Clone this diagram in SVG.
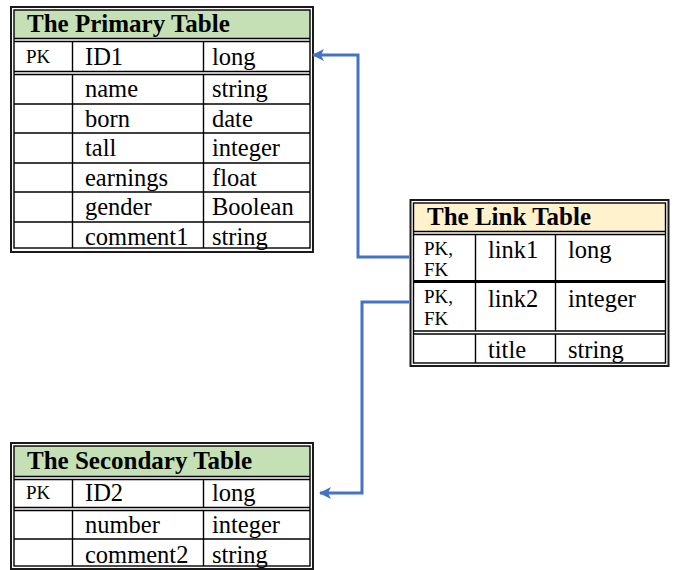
<svg xmlns="http://www.w3.org/2000/svg" width="673" height="570" viewBox="0 0 673 570">
  <style>
    .outer { fill: none; stroke: #1a1a1a; stroke-width: 2; }
    .inner { fill: none; stroke: #000; stroke-width: 1.4; }
    .rule { stroke: #000; stroke-width: 1.4; fill: none; }
    .thick { stroke: #000; stroke-width: 3; fill: none; }
    .head-green { fill: #c5e0b4; }
    .head-yellow { fill: #fff2cc; }
    text { font-family: 'Liberation Serif', 'DejaVu Serif', serif; fill: #000; }
    .title { font-weight: bold; font-size: 25px; }
    .cell { font-size: 24.5px; }
    .key { font-size: 19px; }
    .conn { fill: none; stroke: #4472c4; stroke-width: 3; }
  </style>
  <defs>
    <marker id="arrow" viewBox="0 0 12 12" refX="11" refY="6" markerWidth="12" markerHeight="12" markerUnits="userSpaceOnUse" orient="auto">
      <path d="M0,0 L12,6 L0,12 L3,6 Z" fill="#4472c4"/>
    </marker>
  </defs>

  <!-- Primary table -->
  <g id="primary-table">
    <rect class="head-green" x="14" y="10" width="296" height="28.5"/>
    <rect class="outer" x="11" y="7" width="302" height="245"/>
    <rect class="inner" x="14" y="10" width="296" height="238"/>
    <line class="rule" x1="14" y1="38.5" x2="310" y2="38.5"/>
    <line class="rule" x1="14" y1="41.5" x2="310" y2="41.5"/>
    <line class="rule" x1="14" y1="71.5" x2="310" y2="71.5"/>
    <line class="rule" x1="14" y1="74.5" x2="310" y2="74.5"/>
    <line class="rule" x1="14" y1="104" x2="310" y2="104"/>
    <line class="rule" x1="14" y1="133" x2="310" y2="133"/>
    <line class="rule" x1="14" y1="163" x2="310" y2="163"/>
    <line class="rule" x1="14" y1="192" x2="310" y2="192"/>
    <line class="rule" x1="14" y1="222" x2="310" y2="222"/>
    <path class="rule" d="M72.5,41.5 V71.5 M72.5,74.5 V248 M203.5,41.5 V71.5 M203.5,74.5 V248"/>
    <text class="title" x="27" y="32">The Primary Table</text>
    <text class="key" x="26" y="63">PK</text>
    <text class="cell" x="85" y="65">ID1</text>
    <text class="cell" x="212" y="65">long</text>
    <text class="cell" x="85" y="97">name</text>
    <text class="cell" x="212" y="97">string</text>
    <text class="cell" x="85" y="127">born</text>
    <text class="cell" x="212" y="127">date</text>
    <text class="cell" x="85" y="156">tall</text>
    <text class="cell" x="212" y="156">integer</text>
    <text class="cell" x="85" y="186">earnings</text>
    <text class="cell" x="212" y="186">float</text>
    <text class="cell" x="85" y="215">gender</text>
    <text class="cell" x="212" y="215">Boolean</text>
    <text class="cell" x="85" y="245">comment1</text>
    <text class="cell" x="212" y="245">string</text>
  </g>

  <!-- Link table -->
  <g id="link-table">
    <rect class="head-yellow" x="413.5" y="203" width="252" height="28.5"/>
    <rect class="outer" x="410.5" y="200" width="258" height="166"/>
    <rect class="inner" x="413.5" y="203" width="252" height="160"/>
    <line class="rule" x1="413.5" y1="231.5" x2="665.5" y2="231.5"/>
    <line class="rule" x1="413.5" y1="234.5" x2="665.5" y2="234.5"/>
    <line class="thick" x1="413.5" y1="281.5" x2="665.5" y2="281.5"/>
    <line class="rule" x1="413.5" y1="331" x2="665.5" y2="331"/>
    <line class="rule" x1="413.5" y1="334" x2="665.5" y2="334"/>
    <path class="rule" d="M475.5,234.5 V331 M475.5,334 V363 M555.5,234.5 V331 M555.5,334 V363"/>
    <text class="title" x="427" y="225">The Link Table</text>
    <text class="key" x="424" y="255">PK,</text>
    <text class="key" x="424" y="276">FK</text>
    <text class="cell" x="488" y="258">link1</text>
    <text class="cell" x="568" y="258">long</text>
    <text class="key" x="424" y="303">PK,</text>
    <text class="key" x="424" y="325">FK</text>
    <text class="cell" x="488" y="307">link2</text>
    <text class="cell" x="568" y="307">integer</text>
    <text class="cell" x="488" y="358">title</text>
    <text class="cell" x="568" y="358">string</text>
  </g>

  <!-- Secondary table -->
  <g id="secondary-table">
    <rect class="head-green" x="14" y="446" width="296" height="30.5"/>
    <rect class="outer" x="11" y="443" width="302" height="126"/>
    <rect class="inner" x="14" y="446" width="296" height="120"/>
    <line class="rule" x1="14" y1="476.5" x2="310" y2="476.5"/>
    <line class="rule" x1="14" y1="479.5" x2="310" y2="479.5"/>
    <line class="rule" x1="14" y1="507.5" x2="310" y2="507.5"/>
    <line class="rule" x1="14" y1="510.5" x2="310" y2="510.5"/>
    <line class="rule" x1="14" y1="539" x2="310" y2="539"/>
    <path class="rule" d="M72.5,479.5 V507.5 M72.5,510.5 V566 M203.5,479.5 V507.5 M203.5,510.5 V566"/>
    <text class="title" x="27" y="469">The Secondary Table</text>
    <text class="key" x="26" y="499">PK</text>
    <text class="cell" x="85" y="501">ID2</text>
    <text class="cell" x="212" y="501">long</text>
    <text class="cell" x="85" y="533">number</text>
    <text class="cell" x="212" y="533">integer</text>
    <text class="cell" x="85" y="563">comment2</text>
    <text class="cell" x="212" y="563">string</text>
  </g>

  <!-- Foreign key connectors -->
  <g id="connectors">
    <path class="conn" marker-end="url(#arrow)" d="M409,257 H358 V55 H313"/>
    <path class="conn" marker-end="url(#arrow)" d="M409,302 H362 V493 H320"/>
  </g>
</svg>
